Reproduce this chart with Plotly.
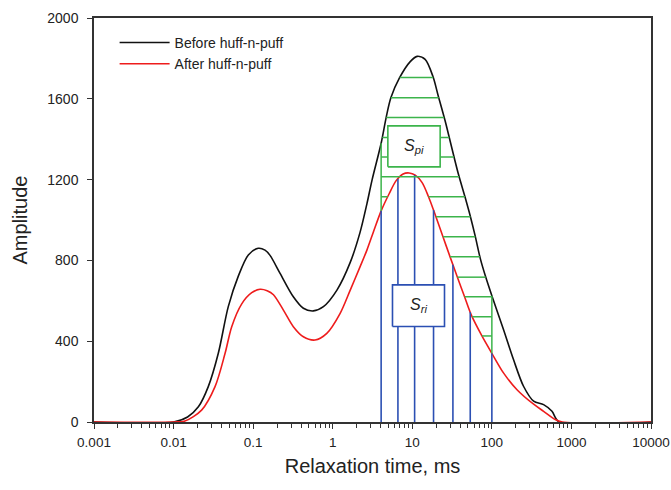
import numpy as np
import plotly.graph_objects as go

# T2 spectra (relaxation time in ms, amplitude)
t_before = [0.001, 0.01, 0.015, 0.0205, 0.0273, 0.0365, 0.0487, 0.0651, 0.087, 0.116, 0.141,
            0.163, 0.218, 0.32, 0.428, 0.571, 0.764, 1.13, 1.66, 2.21, 2.69,
            3.13, 4.06, 4.70, 5.38, 6.90, 9.42, 11.5, 14.5, 18.2, 21.0,
            25.9, 30.8, 37.8, 46.3, 53.5, 61.8, 71.5, 82.6, 100, 140,
            187, 250, 335, 447, 570, 700, 10000]
amp_before = [0, 0, 25, 75, 175, 340, 571, 722, 827, 860, 851,
              825, 736, 620, 563, 550, 571, 653, 790, 940, 1080,
              1200, 1380, 1508, 1605, 1703, 1784, 1810, 1795, 1710, 1620,
              1490, 1370, 1230, 1110, 1020, 920, 810, 725, 625, 458,
              309, 177, 103, 86, 53, 0, 0]

t_after = [0.001, 0.01, 0.0139, 0.0225, 0.0332, 0.0444, 0.0538, 0.0719, 0.096, 0.122,
           0.15, 0.18, 0.24, 0.32, 0.428, 0.60, 0.843, 1.24, 1.66, 2.21, 2.69,
           3.22, 4.06, 5.12, 6.27, 7.67, 9.12, 10.9, 13.3, 16.0, 18.5,
           24.3, 30.0, 37.0, 45.4, 55.1, 75.0, 100, 140, 207, 335,
           447, 627, 767, 10000]
amp_after = [0, 0, 5, 59, 175, 340, 472, 585, 640, 657,
             650, 630, 554, 472, 422, 406, 439, 538, 653, 769, 851,
             937, 1045, 1130, 1195, 1228, 1233, 1222, 1185, 1115, 1049,
             917, 815, 715, 620, 530, 426, 340, 243, 160, 88,
             53, 12, 0, 0]

# time cut-offs (blue lines) and hatch levels (green lines)
t_cut = [4.06, 6.6, 10.7, 18.5, 32.4, 53.5, 100]
hatch_levels = [1705, 1605, 1508, 1408, 1312, 1214, 1115, 1016, 917, 818, 717, 620, 521, 426]

x_ticks = [0.001, 0.01, 0.1, 1, 10, 100, 1000, 10000]
x_ticktext = ["0.001", "0.01", "0.1", "1", "10", "100", "1000", "10000"]
y_ticks = [0, 400, 800, 1200, 1600, 2000]

# label boxes: (t0, t1, a0, a1)
spi_box = (4.93, 22.4, 1263, 1466)
sri_box = (5.64, 25.4, 473, 679)

GREEN = "#3cb44b"
BLUE = "#2b4fb3"
FONT = "Liberation Sans, Arial, sans-serif"

lb = np.log10(t_before)
la = np.log10(t_after)


def black_at(t):
    return np.interp(np.log10(t), lb, amp_before)


def red_at(t):
    return np.interp(np.log10(t), la, amp_after)


fig = go.Figure()

fig.add_trace(go.Scatter(x=t_before, y=amp_before, mode="lines", name="Before huff-n-puff",
                         line=dict(color="#111111", width=1.6, shape="spline", smoothing=0.85)))
fig.add_trace(go.Scatter(x=t_after, y=amp_after, mode="lines", name="After huff-n-puff",
                         line=dict(color="#ee1c1c", width=1.6, shape="spline", smoothing=0.85)))

# blue cut lines from zero up to the red curve
bx, by = [], []
for t in t_cut:
    bx += [t, t, None]
    by += [0, float(red_at(t)), None]
fig.add_trace(go.Scatter(x=bx, y=by, mode="lines", showlegend=False, hoverinfo="skip",
                         line=dict(color=BLUE, width=1.6)))

# green hatching between the two curves inside [t_cut[0], t_cut[-1]]
lt = np.linspace(np.log10(t_cut[0]), np.log10(t_cut[-1]), 1500)
bl = np.interp(lt, lb, amp_before)
rd = np.interp(lt, la, amp_after)
hx, hy = [], []
for lev in hatch_levels:
    inside = bl >= lev
    if lev < 0.98 * max(amp_after):
        inside &= rd <= lev
    idx = np.flatnonzero(inside)
    if len(idx) == 0:
        continue
    for run in np.split(idx, np.where(np.diff(idx) > 1)[0] + 1):
        if len(run) < 2:
            continue
        hx += [10 ** lt[run[0]], 10 ** lt[run[-1]], None]
        hy += [lev, lev, None]
for t in (t_cut[0], t_cut[-1]):
    hx += [t, t, None]
    hy += [float(red_at(t)), float(black_at(t)), None]
fig.add_trace(go.Scatter(x=hx, y=hy, mode="lines", showlegend=False, hoverinfo="skip",
                         line=dict(color=GREEN, width=1.5)))

# white label boxes
for (t0, t1, a0, a1), col in ((spi_box, GREEN), (sri_box, BLUE)):
    fig.add_trace(go.Scatter(x=[t0, t1, t1, t0, t0], y=[a0, a0, a1, a1, a0], mode="lines",
                             fill="toself", fillcolor="white", showlegend=False, hoverinfo="skip",
                             line=dict(color=col, width=1.6)))

for (t0, t1, a0, a1), txt in ((spi_box, "<i>S</i><sub><i>pi</i></sub>"),
                              (sri_box, "<i>S</i><sub><i>ri</i></sub>")):
    fig.add_annotation(x=(np.log10(t0) + np.log10(t1)) / 2, y=(a0 + a1) / 2, text=txt,
                       showarrow=False, font=dict(family=FONT, size=16, color="#222222"))

fig.update_layout(
    width=671, height=490,
    margin=dict(l=94, r=20, t=18, b=68),
    paper_bgcolor="white", plot_bgcolor="white",
    font=dict(family=FONT, size=14, color="#222222"),
    showlegend=True,
    legend=dict(x=0.037, y=0.978, xanchor="left", yanchor="top", bgcolor="rgba(0,0,0,0)",
                font=dict(family=FONT, size=14, color="#222222"), tracegroupgap=0,
                itemwidth=50),
)
fig.update_xaxes(
    type="log", range=[-3, 4], tickvals=x_ticks, ticktext=x_ticktext, automargin=False,
    ticks="outside", ticklen=5, tickwidth=1.2, tickcolor="#333333", ticklabelstandoff=2,
    tickfont=dict(size=13.5), ticklabeloverflow="allow",
    minor=dict(ticks="outside", ticklen=4, tickcolor="#333333",
               tickvals=[m * 10.0 ** e for e in range(-3, 4) for m in range(2, 10)]),
    showline=True, linecolor="#333333", linewidth=1.5, mirror=True,
    showgrid=False, zeroline=False,
    title=dict(text="Relaxation time, ms", font=dict(family=FONT, size=20), standoff=10),
)
fig.update_yaxes(
    range=[0, 2000], tickvals=y_ticks, ticks="outside", ticklen=5, tickwidth=1.2,
    tickcolor="#333333", automargin=False, ticklabelstandoff=6, tickfont=dict(size=14),
    showline=True, linecolor="#333333", linewidth=1.5, mirror=True,
    showgrid=False, zeroline=False,
    title=dict(text="Amplitude", font=dict(family=FONT, size=20), standoff=14),
)

# drop the browser's default body margin so the 671x490 figure fills the window
fig.write_html("out.html", config={"displayModeBar": False},
               post_script="document.body.style.margin = '0';")
